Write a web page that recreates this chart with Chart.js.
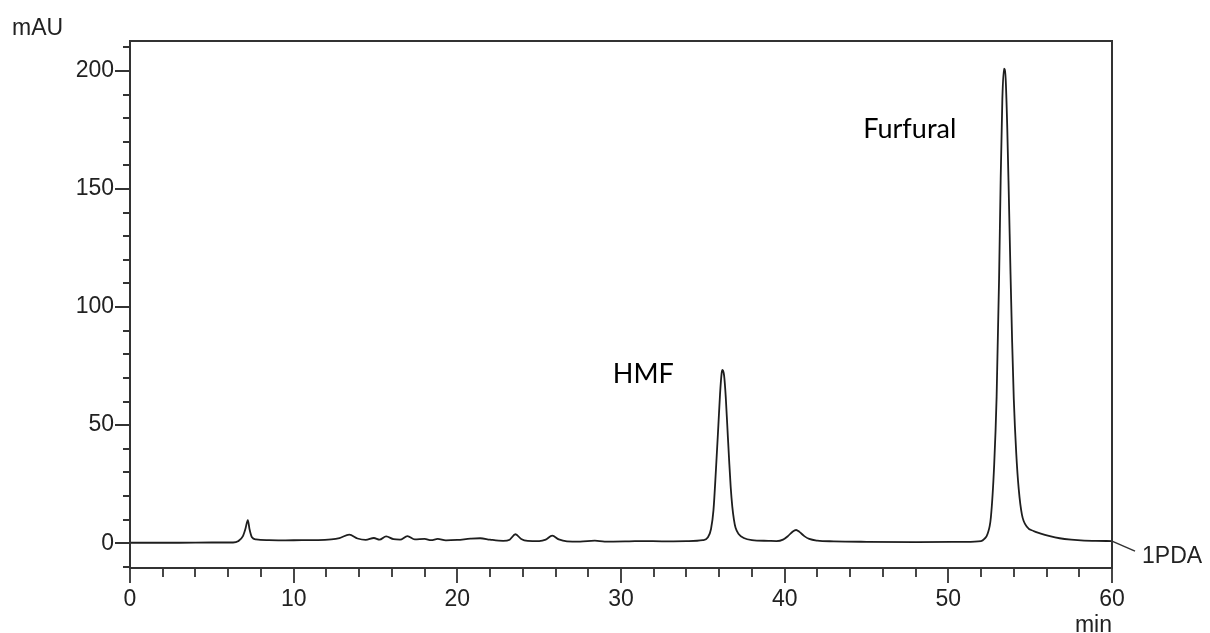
<!DOCTYPE html>
<html>
<head>
<meta charset="utf-8">
<script src="https://cdn.jsdelivr.net/npm/chart.js@4/dist/chart.umd.min.js"></script>
<style>
  html, body { margin: 0; padding: 0; background: #fff; }
  #wrap { width: 1210px; height: 633px; position: relative; }
</style>
</head>
<body>
<div id="wrap"><canvas id="chrom"></canvas></div>
<script>
// retention time (min) and detector response (mAU), 1PDA channel
const times = [
  0, 3, 5, 6.3, 6.6, 6.9, 7.05, 7.2, 7.3, 7.45, 7.7, 8.5, 9.5, 10.5, 11.5, 12.3, 12.8, 13.4, 13.9, 14.4,
  14.9, 15.25, 15.65, 16.1, 16.5, 16.95, 17.4, 18.0, 18.4, 18.8, 19.3, 20.0, 20.8, 21.4, 22.0, 22.8, 23.2, 23.55, 23.9, 24.3,
  25.0, 25.4, 25.8, 26.2, 26.7, 27.5, 28.4, 29.0, 30.5, 31.4, 32.5, 34.0, 35.0, 35.3, 35.5, 35.65, 35.8, 35.95, 36.05, 36.15,
  36.2, 36.3, 36.4, 36.5, 36.6, 36.7, 36.8, 36.9, 37.0, 37.2, 37.5, 38.0, 39.0, 39.5, 39.9, 40.2, 40.5, 40.7, 40.9, 41.2,
  41.5, 42.0, 43.0, 45.0, 48.0, 51.0, 52.0, 52.2, 52.4, 52.6, 52.8, 52.95, 53.1, 53.2, 53.3, 53.4, 53.5, 53.6, 53.7, 53.8,
  53.9, 54.0, 54.15, 54.3, 54.5, 54.8, 55.2, 55.6, 56.2, 56.8, 57.5, 58.3, 59.0, 60.0
];
const signal = [
  0.2, 0.2, 0.3, 0.3, 0.8, 3, 6, 9.8, 6, 2.5, 1.6, 1.3, 1.2, 1.3, 1.3, 1.6, 2.2, 3.6, 2.0, 1.4,
  2.2, 1.5, 2.9, 1.7, 1.5, 3.0, 1.6, 1.8, 1.3, 1.8, 1.2, 1.4, 1.9, 2.1, 1.5, 1.0, 1.5, 3.8, 1.8, 1.0,
  0.9, 1.5, 3.2, 1.6, 0.8, 0.7, 1.1, 0.7, 0.8, 0.9, 0.8, 0.9, 1.3, 2.4, 6, 14, 31, 50, 63, 72,
  73.4, 71, 62, 49, 36, 24, 15.5, 10, 6.5, 3.8, 2.2, 1.3, 1.0, 0.9, 1.5, 3, 5.0, 5.6, 4.8, 3,
  1.8, 1.1, 0.8, 0.6, 0.5, 0.6, 0.9, 1.8, 4, 11, 33, 62, 112, 155, 188, 201, 197, 176, 146, 114,
  85, 61, 38, 23, 12, 7, 5.2, 4.2, 3.0, 2.1, 1.5, 1.1, 1.0, 0.9
];

// axis labels and peak names
const xLabels = [0, 10, 20, 30, 40, 50, 60];
const yLabels = [0, 50, 100, 150, 200];
const peakNames = ["HMF", "Furfural"];
const peakLabelAt = [[29.5, 68], [44.8, 171.5]];

const X_MIN = 0, X_MAX = 60, X_MINOR = 2;
const Y_MIN = -10.5, Y_MAX = 212.7, Y_MINOR = 10;

const fontFamily = "'Liberation Sans', Arial, sans-serif";
const tickFont = "23px " + fontFamily;
const ink = "#222";

function minorValues(lo, hi, step) {
  let out = [];
  for (let v = Math.ceil(lo / step) * step; v <= hi + 1e-9; v += step) out.push(Math.round(v * 100) / 100);
  return out;
}

// frame, tick marks and text drawn on top of the chart
const decorations = {
  id: "decorations",
  afterDraw(chart) {
    const ctx = chart.ctx;
    const a = chart.chartArea;
    const xs = chart.scales.x, ys = chart.scales.y;

    ctx.save();
    ctx.strokeStyle = "#333";
    ctx.lineWidth = 2;
    ctx.strokeRect(a.left, a.top, a.right - a.left, a.bottom - a.top);

    // x ticks point down, y ticks point left
    ctx.lineWidth = 1.8;
    ctx.beginPath();
    minorValues(X_MIN, X_MAX, X_MINOR).forEach(v => {
      const px = Math.round(xs.getPixelForValue(v));
      const len = xLabels.includes(v) ? 15 : 9;
      ctx.moveTo(px, a.bottom);
      ctx.lineTo(px, a.bottom + len);
    });
    minorValues(Y_MIN, Y_MAX, Y_MINOR).forEach(v => {
      const py = Math.round(ys.getPixelForValue(v));
      const len = yLabels.includes(v) ? 15 : 7;
      ctx.moveTo(a.left, py);
      ctx.lineTo(a.left - len, py);
    });
    ctx.stroke();

    // units
    ctx.fillStyle = ink;
    ctx.font = tickFont;
    ctx.textAlign = "left";
    ctx.textBaseline = "alphabetic";
    ctx.fillText("mAU", 12, 35);
    ctx.textAlign = "right";
    ctx.fillText("min", a.right, 632);

    // channel tag at the end of the trace
    const n = times.length - 1;
    const ex = xs.getPixelForValue(times[n]);
    const ey = ys.getPixelForValue(signal[n]);
    ctx.strokeStyle = "#333";
    ctx.lineWidth = 1.5;
    ctx.beginPath();
    ctx.moveTo(ex, ey);
    ctx.lineTo(ex + 23, ey + 10);
    ctx.stroke();
    ctx.textAlign = "left";
    ctx.fillText("1PDA", ex + 30, ey + 22);

    // peak names
    ctx.fillStyle = "#000";
    ctx.font = "27px Lato, 'Open Sans', sans-serif";
    peakNames.forEach((name, i) => {
      const [t, v] = peakLabelAt[i];
      ctx.fillText(name, xs.getPixelForValue(t), ys.getPixelForValue(v));
    });
    ctx.restore();
  }
};

const ctx = document.getElementById("chrom").getContext("2d");
new Chart(ctx, {
  type: "line",
  data: {
    datasets: [{
      data: times.map((t, i) => ({ x: t, y: signal[i] })),
      borderColor: "#1e1e1e",
      borderWidth: 1.8,
      pointRadius: 0,
      fill: false,
      cubicInterpolationMode: "monotone"
    }]
  },
  options: {
    responsive: true,
    maintainAspectRatio: false,
    animation: false,
    layout: { padding: { top: 41, right: 98, left: 0, bottom: 0 } },
    plugins: { legend: { display: false }, tooltip: { enabled: false } },
    scales: {
      x: {
        type: "linear",
        min: X_MIN,
        max: X_MAX,
        afterFit(scale) { scale.height = 65; },
        afterBuildTicks(scale) { scale.ticks = xLabels.map(v => ({ value: v })); },
        grid: { display: false, drawTicks: false },
        border: { display: false },
        ticks: { color: ink, font: { family: fontFamily, size: 23 }, padding: 18, maxRotation: 0, autoSkip: false }
      },
      y: {
        type: "linear",
        min: Y_MIN,
        max: Y_MAX,
        afterFit(scale) { scale.width = 130; },
        afterBuildTicks(scale) { scale.ticks = yLabels.map(v => ({ value: v })); },
        grid: { display: false, drawTicks: false },
        border: { display: false },
        ticks: { color: ink, font: { family: fontFamily, size: 23 }, padding: 16, autoSkip: false }
      }
    }
  },
  plugins: [decorations]
});
</script>
</body>
</html>
